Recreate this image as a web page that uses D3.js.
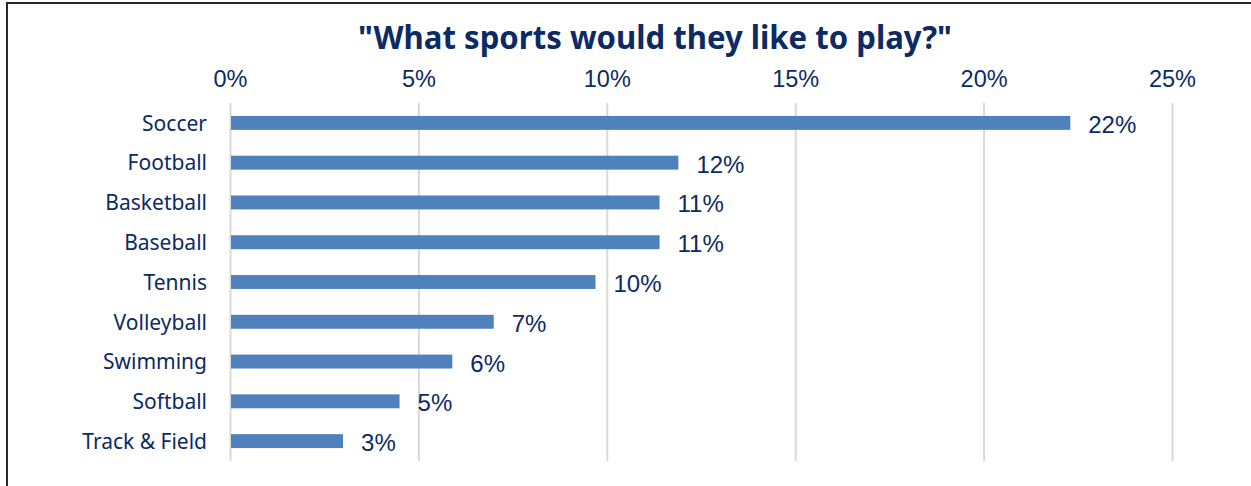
<!DOCTYPE html>
<html>
<head>
<meta charset="utf-8">
<script src="https://cdn.jsdelivr.net/npm/d3@7"></script>
<style>
  body { margin: 0; background: #fff; }
  svg { display: block; }
</style>
</head>
<body>
<svg width="1251" height="486"></svg>
<script>
// data (percent)
const sports = ["Soccer", "Football", "Basketball", "Baseball", "Tennis", "Volleyball", "Swimming", "Softball", "Track & Field"];
const shares = [22.3, 11.9, 11.4, 11.4, 9.7, 7.0, 5.9, 4.5, 3.0];
const xTicks = [0, 5, 10, 15, 20, 25];

const svg = d3.select("svg");
const navy = "#0c2a64";

// frame (only left and top edges show)
svg.append("rect")
    .attr("x", 7).attr("y", 3)
    .attr("width", 1300).attr("height", 600)
    .attr("fill", "none")
    .attr("stroke", "#262626")
    .attr("stroke-width", 2);

const margin = {top: 103, left: 230, bottom: 25, right: 79};
const width = 1251, height = 486;
const innerwidth = width - margin.left - margin.right;
const innerheight = height - margin.top - margin.bottom;

const xScale = d3.scaleLinear()
    .domain([0, 25])
    .range([0, innerwidth]);

const yScale = d3.scaleBand()
    .domain(sports)
    .range([0, innerheight])
    .paddingInner(0.65)
    .paddingOuter(0.325);

const g = svg.append("g")
    .attr("transform", `translate(${margin.left}, ${margin.top})`);

// title
svg.append("text")
    .attr("x", 358).attr("y", 49)
    .attr("textLength", 594)
    .attr("lengthAdjust", "spacingAndGlyphs")
    .attr("fill", navy)
    .style("font-family", "'Noto Sans', sans-serif")
    .style("font-weight", "bold")
    .style("font-size", "33px")
    .text('"What sports would they like to play?"');

// top axis with gridlines
const xAxis = d3.axisTop(xScale)
    .tickValues(xTicks)
    .tickFormat(d => d + "%")
    .tickSize(-innerheight)
    .tickPadding(16);

const xAxisG = g.append("g").call(xAxis);
xAxisG.select(".domain").remove();
xAxisG.selectAll(".tick line")
    .attr("stroke", "#d9d9d9")
    .attr("stroke-width", 2);
xAxisG.selectAll(".tick text")
    .attr("fill", navy)
    .style("font-family", "'Liberation Sans', Arial, sans-serif")
    .style("font-size", "23.5px");

// category labels
g.selectAll(".cat").data(sports)
    .enter().append("text")
        .attr("class", "cat")
        .attr("x", -23)
        .attr("y", d => yScale(d) + yScale.bandwidth() / 2)
        .attr("dy", "0.37em")
        .attr("text-anchor", "end")
        .attr("fill", navy)
        .style("font-family", "'Noto Sans', sans-serif")
        .style("font-size", "21px")
        .text(d => d);

// bars
g.selectAll("rect.bar").data(shares)
    .enter().append("rect")
        .attr("class", "bar")
        .attr("x", xScale(0) + 1)
        .attr("y", (d, i) => yScale(sports[i]))
        .attr("width", d => xScale(d) - 1)
        .attr("height", yScale.bandwidth())
        .attr("fill", "#4f81bd");

// value labels
g.selectAll(".val").data(shares)
    .enter().append("text")
        .attr("class", "val")
        .attr("x", d => xScale(d) + 18)
        .attr("y", (d, i) => yScale(sports[i]) + yScale.bandwidth() / 2 + 10)
        .attr("fill", navy)
        .style("font-family", "'Liberation Sans', Arial, sans-serif")
        .style("font-size", "24px")
        .text(d => Math.round(d) + "%");
</script>
</body>
</html>
